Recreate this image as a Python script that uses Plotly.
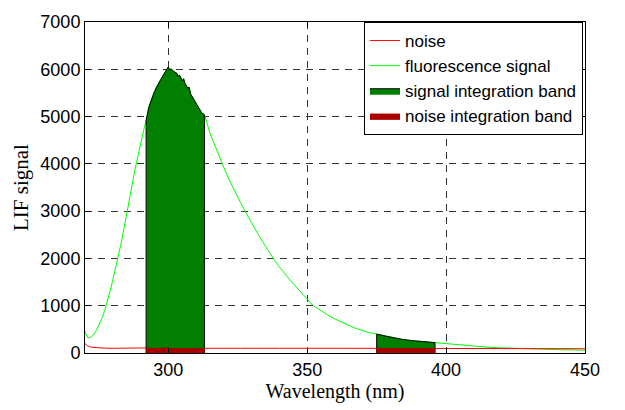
import plotly.graph_objects as go

# Fluorescence signal (wavelength nm, LIF counts)
signal_wl = [270, 271, 272, 273, 274, 275, 276, 277, 278, 279, 280, 281, 282, 283, 284, 285,
             286, 287, 288, 289, 290, 291, 292, 293, 294, 295, 296, 297, 298, 299, 300, 300.5,
             301, 302, 303, 303.5, 304, 305, 305.5, 306, 307, 307.5, 308, 309, 310, 311, 312, 313,
             314, 315, 316, 317, 318, 319, 320, 322, 324, 326, 328, 330, 332, 334, 336, 338,
             340, 342, 344, 346, 348, 350, 352, 354, 356, 358, 360, 362, 364, 366, 368, 370,
             372, 375, 378, 380, 384, 388, 392, 396, 400, 405, 410, 415, 420, 425, 430, 435,
             440, 445, 450]
signal_val = [455, 320, 330, 380, 470, 580, 720, 880, 1080, 1300, 1540, 1780, 2040, 2320, 2620, 2950,
              3260, 3580, 3880, 4150, 4440, 4680, 4920, 5200, 5380, 5530, 5650, 5760, 5850, 5960, 6050, 5980,
              6010, 5950, 5920, 5850, 5880, 5760, 5800, 5700, 5600, 5620, 5480, 5380, 5280, 5150, 5080, 5040,
              4820, 4650, 4500, 4350, 4200, 4060, 3920, 3650, 3400, 3180, 2960, 2740, 2540, 2350, 2160, 1980,
              1820, 1670, 1530, 1400, 1260, 1140, 1010, 930, 850, 780, 720, 660, 600, 555, 510, 470,
              435, 400, 360, 335, 290, 260, 238, 220, 195, 165, 140, 122, 108, 96, 86, 78,
              72, 66, 58]

# Noise level
noise_wl = [270, 271, 272, 274, 276, 280, 290, 292, 298, 300, 301, 305, 310, 313, 320, 325, 326,
            340, 345, 350, 360, 370, 375, 380, 390, 396, 400, 410, 420, 430, 440, 450]
noise_val = [200, 150, 125, 110, 105, 100, 100, 100, 105, 112, 95, 100, 100, 100, 100, 112, 100,
             100, 94, 100, 100, 100, 100, 100, 100, 100, 100, 98, 96, 94, 92, 90]

# Integration bands (nm)
signal_bands = [(292, 313), (375, 396)]
noise_bands = [(292, 313), (375, 396)]

x_ticks = [300, 350, 400, 450]
y_ticks = [0, 1000, 2000, 3000, 4000, 5000, 6000, 7000]


def band_polygon(wl, val, lo, hi):
    xs = [w for w in wl if lo <= w <= hi]
    ys = [v for w, v in zip(wl, val) if lo <= w <= hi]
    return [lo] + xs + [hi], [0] + ys + [0]


fig = go.Figure()

fig.add_trace(go.Scatter(x=signal_wl, y=signal_val, mode="lines", name="fluorescence signal",
                         line=dict(color="#00ff00", width=1), legendrank=2))
fig.add_trace(go.Scatter(x=noise_wl, y=noise_val, mode="lines", name="noise",
                         line=dict(color="#ff0000", width=1), legendrank=1))

for i, (lo, hi) in enumerate(signal_bands):
    bx, by = band_polygon(signal_wl, signal_val, lo, hi)
    fig.add_trace(go.Scatter(x=bx, y=by, mode="lines", fill="toself", fillcolor="#007f00",
                             line=dict(color="black", width=1), name="signal integration band",
                             legendgroup="sig", showlegend=(i == 0), legendrank=3))
for i, (lo, hi) in enumerate(noise_bands):
    bx, by = band_polygon(noise_wl, noise_val, lo, hi)
    fig.add_trace(go.Scatter(x=bx, y=by, mode="lines", fill="toself", fillcolor="#aa0000",
                             line=dict(color="#aa0000", width=0.5), name="noise integration band",
                             legendgroup="noi", showlegend=(i == 0), legendrank=4))

axis_common = dict(showline=True, linecolor="black", linewidth=1, mirror="ticks",
                   ticks="inside", ticklen=5, tickcolor="black",
                   showgrid=True, gridcolor="#333333", gridwidth=1, griddash="7px,6px",
                   zeroline=False, tickfont=dict(family="Liberation Sans, Arial", size=18, color="black"))

fig.update_xaxes(range=[270, 450], tickvals=x_ticks, **axis_common,
                 title=dict(text="Wavelength (nm)", font=dict(family="Liberation Serif, Times New Roman",
                                                             size=20, color="black"), standoff=4))
fig.update_yaxes(range=[0, 7000], tickvals=y_ticks, **axis_common,
                 title=dict(text="LIF signal", font=dict(family="Liberation Serif, Times New Roman",
                                                        size=21, color="black"), standoff=6))

fig.update_layout(
    width=625, height=410,
    margin=dict(l=85, r=40, t=16, b=51),
    plot_bgcolor="white", paper_bgcolor="white",
    legend=dict(x=0.996, y=1.0, xanchor="right", yanchor="top",
                bgcolor="white", bordercolor="black", borderwidth=1,
                font=dict(family="Liberation Sans, Arial", size=17, color="black"),
                tracegroupgap=0, itemwidth=30),
    showlegend=True,
)

fig.write_html("out.html", config={"displayModeBar": False},
               post_script="document.body.style.margin='0px';")
